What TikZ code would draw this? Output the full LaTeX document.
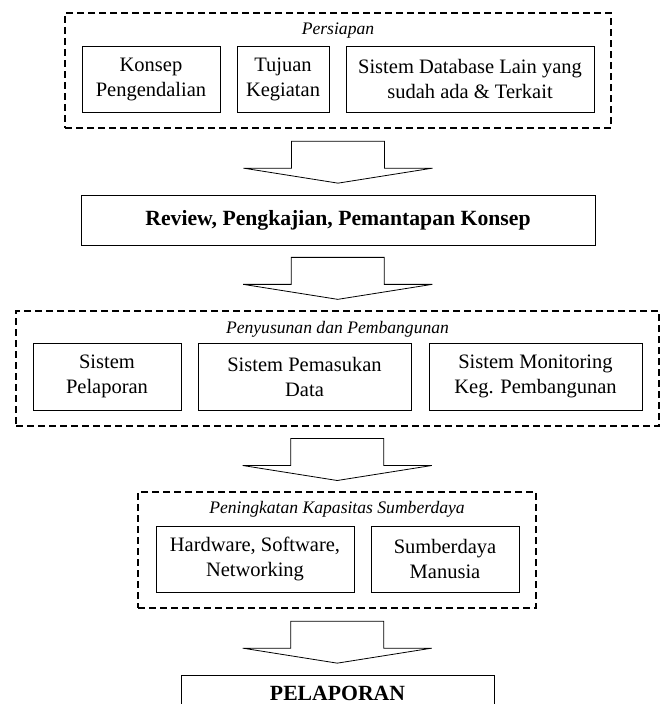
\documentclass[tikz,border=0pt]{standalone}
\usepackage{fontspec}
\setmainfont{Liberation Serif}
\usetikzlibrary{calc}
\begin{document}
\begin{tikzpicture}[x=1pt,y=-1pt,
  box/.style={draw=black,line width=1pt,inner sep=0pt,align=center,
    font=\fontsize{20.5}{25}\selectfont},
  boldbox/.style={draw=black,line width=1pt,inner sep=0pt,align=center,
    font=\fontsize{21.7}{26}\selectfont\bfseries},
  frame/.style={draw=black,line width=1.6pt,dash pattern=on 7pt off 4pt,inner sep=0pt},
  title/.style={inner sep=0pt,font=\fontsize{17.6}{20}\selectfont\itshape},
  blockline/.style={draw=black,line width=0.8pt,line join=miter},
  downblock/.pic={
    \draw[blockline] (-46.5,-20.5) -- (46.5,-20.5) -- (46.5,6.5) -- (94.5,6.5)
      -- (0,21.5) -- (-94.5,6.5) -- (-46.5,6.5) -- cycle;
  }]
\useasboundingbox (0,0) rectangle (663,704);
\clip (0,0) rectangle (663,704);

% Persiapan
\node[frame,minimum width=546pt,minimum height=115pt] (prep) at (338,70.5) {};
\node[title] (preptitle) at (338,31) {Persiapan};
\node[box,minimum width=138pt,minimum height=66pt] (konsep) at (151,79) {Konsep\\Pengendalian};
\node[box,minimum width=92pt,minimum height=66pt] (tujuan) at (283,79) {Tujuan\\Kegiatan};
\node[box,minimum width=248pt,minimum height=66pt] (sisdb) at (470,79) {Sistem Database Lain yang\\sudah ada \& Terkait};

% Review
\node[boldbox,minimum width=514pt,minimum height=50pt] (review) at (338,220) {Review, Pengkajian, Pemantapan Konsep};

% Penyusunan dan Pembangunan
\node[frame,minimum width=643pt,minimum height=115pt] (build) at (337.5,368.5) {};
\node[title] (buildtitle) at (337.5,329) {Penyusunan dan Pembangunan};
\node[box,minimum width=148pt,minimum height=67pt] (lapor) at (107,376.5) {Sistem\\Pelaporan};
\node[box,minimum width=213pt,minimum height=67pt] (masuk) at (304.5,376.5) {Sistem Pemasukan\\Data};
\node[box,minimum width=213pt,minimum height=67pt] (monitor) at (535.5,376.5) {Sistem Monitoring\\Keg. Pembangunan};

% Peningkatan Kapasitas Sumberdaya
\node[frame,minimum width=398pt,minimum height=116pt] (capa) at (337,550) {};
\node[title] (capatitle) at (337,509) {Peningkatan Kapasitas Sumberdaya};
\node[box,minimum width=198pt,minimum height=66pt] (hw) at (255,559) {Hardware, Software,\\Networking};
\node[box,minimum width=148pt,minimum height=66pt] (sdm) at (445,559) {Sumberdaya\\Manusia};

% Pelaporan
\node[boldbox,minimum width=313pt,minimum height=36pt] (report) at (337.5,693) {PELAPORAN};

% block arrows between stages
\path ($(prep.south)!0.5!(review.north)$) pic {downblock};
\path ($(review.south)!0.5!(build.north)$) pic {downblock};
\path ($(build.south)!0.5!(capa.north)$) pic {downblock};
\path ($(capa.south)!0.5!(report.north)$) pic {downblock};
\end{tikzpicture}
\end{document}
